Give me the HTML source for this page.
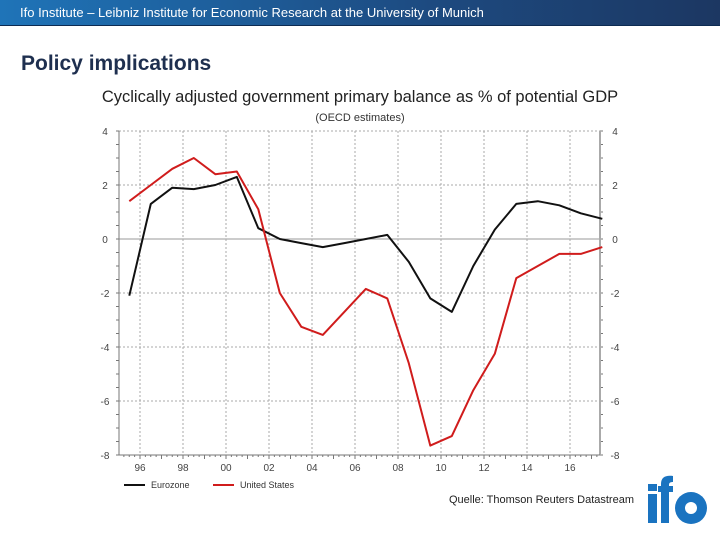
<!DOCTYPE html>
<html><head><meta charset="utf-8"><style>
body{margin:0;width:720px;height:540px;background:#fff;overflow:hidden;font-family:"Liberation Sans",sans-serif;position:relative}
#hdr{position:absolute;left:0;top:0;width:720px;height:25px;background:linear-gradient(90deg,#1f74b8,#1d4a80 60%,#1c3762);border-bottom:1px solid #0d2b52;color:#fff;font-size:13px;line-height:25px}
#hdr span{margin-left:20px}
#title{position:absolute;left:21px;top:52px;font-size:21px;font-weight:bold;color:#1e2f4f}
svg{position:absolute;left:0;top:0}
</style></head><body>
<div id="hdr"><span>Ifo Institute – Leibniz Institute for Economic Research at the University of Munich</span></div>
<div id="title">Policy implications</div>
<svg id="chart" width="720" height="540"></svg>
<script>
const years=[1995,1996,1997,1998,1999,2000,2001,2002,2003,2004,2005,2006,2007,2008,2009,2010,2011,2012,2013,2014,2015,2016,2017];
const eurozone=[-2.1,1.3,1.9,1.85,2.0,2.3,0.4,0.0,-0.15,-0.3,-0.15,0.0,0.15,-0.85,-2.2,-2.7,-1.0,0.35,1.3,1.4,1.25,0.95,0.75];
const unitedStates=[1.4,2.0,2.6,3.0,2.4,2.5,1.1,-2.0,-3.25,-3.55,-2.7,-1.85,-2.2,-4.6,-7.65,-7.3,-5.6,-4.25,-1.45,-1.0,-0.55,-0.55,-0.3];
const yTicks=[4,2,0,-2,-4,-6,-8];
const xTickYears=[1996,1998,2000,2002,2004,2006,2008,2010,2012,2014,2016];
const xTickLabels=["96","98","00","02","04","06","08","10","12","14","16"];

const NS="http://www.w3.org/2000/svg";
const svg=document.getElementById('chart');
const L=119,R=600,T=131,B=455;
const xS=y=>140+(y-1996)*21.5;
const yS=v=>T+(4-v)*(B-T)/12;
function mk(tag,attrs,parent){const e=document.createElementNS(NS,tag);for(const k in attrs)e.setAttribute(k,attrs[k]);(parent||svg).appendChild(e);return e;}
function txt(x,y,s,size,anchor,fill){const t=mk('text',{x:x,y:y,'font-size':size,'text-anchor':anchor||'start',fill:fill||'#333','font-family':'Liberation Sans, sans-serif'});t.textContent=s;return t;}

let t=txt(360,102,"Cyclically adjusted government primary balance as % of potential GDP",16.5,'middle','#222');


t=txt(360,121,"(OECD estimates)",11,'middle','#333');



yTicks.forEach(v=>{
  const y=yS(v);
  const g=mk('line',{x1:L,x2:R,y1:y,y2:y,stroke:v===0?'#999':'#aaa','stroke-width':1,'stroke-dasharray':v===0?'':'2,2'});
  
  
  let a=txt(105,y+4,String(v),10,'middle','#444');
  
  
  a=txt(615,y+4,String(v),10,'middle','#444');
  
  
});
for(let v=4;v>=-8;v-=0.5){const y=yS(v);mk('line',{x1:L-3,x2:L,y1:y,y2:y,stroke:'#777'});mk('line',{x1:R,x2:R+3,y1:y,y2:y,stroke:'#777'});}
xTickYears.forEach((yr,i)=>{
  const x=xS(yr);
  const g=mk('line',{x1:x,x2:x,y1:T,y2:B,stroke:'#aaa','stroke-dasharray':'2,2'});
  
  
  const a=txt(x,471,xTickLabels[i],10,'middle','#444');
  
  
});
for(let yr=1995;yr<=2018;yr+=0.25){const x=xS(yr);if(x>=L&&x<=R)mk('line',{x1:x,x2:x,y1:B,y2:B+(yr%1===0?4:2),stroke:'#777'});}
mk('line',{x1:L,x2:L,y1:T,y2:B,stroke:'#777'});
mk('line',{x1:R,x2:R,y1:T,y2:B,stroke:'#aaa','stroke-width':2});
mk('line',{x1:L,x2:R,y1:B,y2:B,stroke:'#777'});

function series(vals,color,name){
  const pts=vals.map((v,i)=>xS(years[i]+0.5).toFixed(1)+','+yS(v).toFixed(1)).join(' ');
  const p=mk('polyline',{points:pts,fill:'none',stroke:color,'stroke-width':2,'stroke-linejoin':'round'});
  
  
}
series(eurozone,'#111','eurozone-line');
series(unitedStates,'#d01c1c','united-states-line');

let le=mk('line',{x1:124,x2:145,y1:485,y2:485,stroke:'#111','stroke-width':2});


t=txt(151,488,"Eurozone",9,'start','#333');


le=mk('line',{x1:213,x2:234,y1:485,y2:485,stroke:'#d01c1c','stroke-width':2});


t=txt(240,488,"United States",9,'start','#333');


t=txt(634,503,"Quelle: Thomson Reuters Datastream",11,'end','#222');



const lg=mk('g',{fill:'#1a73c0'});


mk('rect',{x:648,y:484,width:9,height:7},lg);
mk('rect',{x:648,y:494,width:9,height:29},lg);
mk('path',{d:'M661 523 V492 h-3 v-6 h3 v-2 c0-7 5-9 12-8 v6 c-3 0-4 1-4 3 v1 h4 v6 h-4 v31 z'},lg);
mk('circle',{cx:691,cy:508,r:16},lg);
mk('circle',{cx:691,cy:508,r:6,fill:'#fff'},lg);
</script>
</body></html>
